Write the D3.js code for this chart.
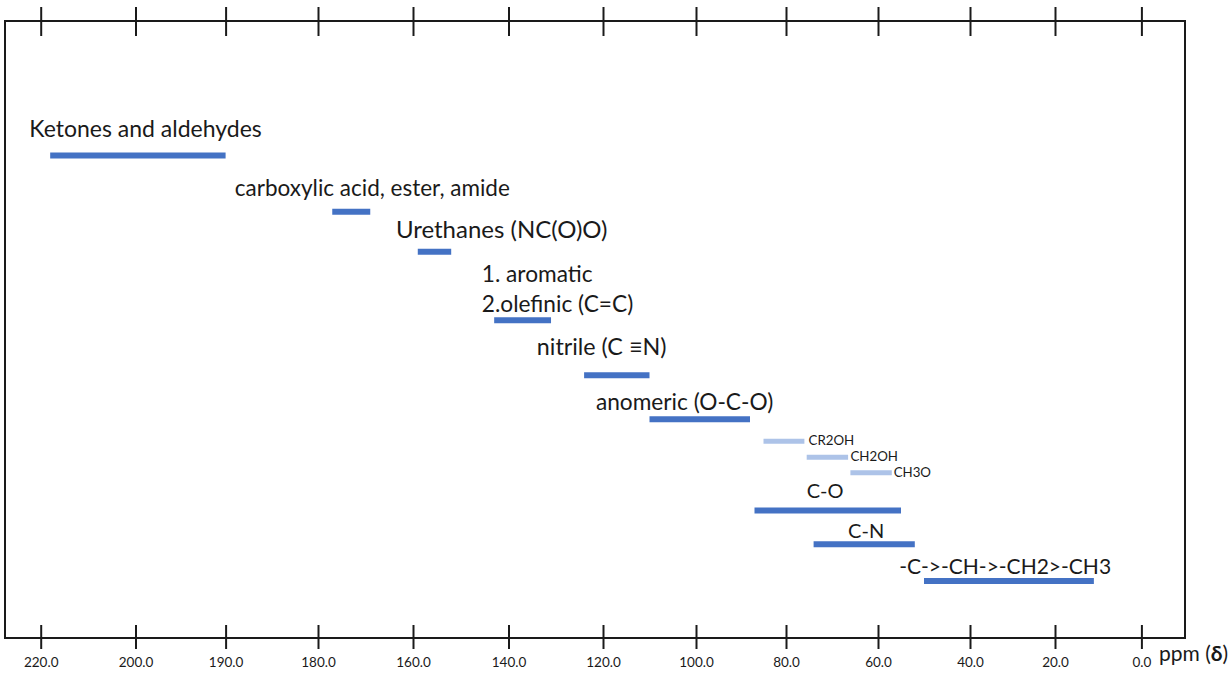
<!DOCTYPE html>
<html>
<head>
<meta charset="utf-8">
<script src="https://cdn.jsdelivr.net/npm/d3@7"></script>
<style>
  body { margin: 0; background: #fff; }
  svg { display: block; }
</style>
</head>
<body>
<svg id="chart" width="1231" height="675"></svg>
<script>
// 13C NMR chemical shift ranges by functional group (ppm)
const tickValues = [220, 200, 190, 180, 160, 140, 120, 100, 80, 60, 40, 20, 0];
const tickLabels = ["220.0", "200.0", "190.0", "180.0", "160.0", "140.0", "120.0",
                    "100.0", "80.0", "60.0", "40.0", "20.0", "0.0"];

const groups = [
  "Ketones and aldehydes",
  "carboxylic acid, ester, amide",
  "Urethanes (NC(O)O)",
  "1. aromatic|2.olefinic (C=C)",
  "nitrile (C \u2261N)",
  "anomeric (O-C-O)",
  "CR2OH",
  "CH2OH",
  "CH3O",
  "C-O",
  "C-N",
  "-C->-CH->-CH2>-CH3"
];
const shiftHigh = [218, 177, 159, 143, 124, 110, 85, 75.5, 66, 87, 74, 50];
const shiftLow  = [190, 169, 152, 131, 110,  88, 76, 66.5, 57, 55, 52, 11];
const isSubRange = [false, false, false, false, false, false, true, true, true, false, false, false];

// ---- layout ----
const frame = { left: 5, right: 1185, top: 21, bottom: 638 };
// the shift axis is drawn with evenly spread, hand-placed ticks
const tickPos = [40.7, 135.5, 225.6, 318, 413, 508.5, 603, 696, 786, 878, 970, 1055, 1141.4];
// vertical slot of every row (0 = top of frame, 100 = bottom)
const rowLevel = [21.8, 30.9, 37.4, 48.5, 57.4, 64.55, 68.1, 70.7, 73.2, 79.35, 84.8, 90.75];
// label anchor (ppm), baseline offset from its bar (px) and type size
const labelAt = [222.4, 189.0, 163.6, 145.6, 134.0, 121.5, 75.1, 66.0, 56.6, 75.5, 66.5, 55.4];
const labelDy = [-18.4, -15.7, -13.4, -38.3, -20, -9.3, 4, 3.5, 4, -12.2, -6, -7];
const labelSize = [23, 22.5, 24, 22.7, 23.3, 22.7, 13.3, 13.3, 13.3, 20, 20, 21];

const MAIN_BLUE = "#4472c4";
const LIGHT_BLUE = "#adc3e8";
const INK = "#1a1a1a";
const FONT = "Lato, 'Open Sans', sans-serif";

const svg = d3.select("#chart");

const x = d3.scaleLinear().domain(tickValues).range(tickPos);
const y = d3.scaleLinear().domain([0, 100]).range([frame.top, frame.bottom]);

// frame
svg.append("rect")
  .attr("x", frame.left).attr("y", frame.top)
  .attr("width", frame.right - frame.left)
  .attr("height", frame.bottom - frame.top)
  .attr("fill", "none")
  .attr("stroke", INK)
  .attr("stroke-width", 2);

// top axis: crossing ticks only
svg.append("g")
  .attr("transform", `translate(0,${frame.top})`)
  .call(d3.axisTop(x).tickValues(tickValues).tickFormat("").tickSizeOuter(0))
  .call(g => g.select(".domain").remove())
  .call(g => g.selectAll(".tick line")
    .attr("y1", -14).attr("y2", 15)
    .attr("stroke", INK).attr("stroke-width", 2));

// bottom axis with labels
svg.append("g")
  .attr("transform", `translate(0,${frame.bottom})`)
  .call(d3.axisBottom(x).tickValues(tickValues)
    .tickFormat((d, i) => tickLabels[i]).tickSizeOuter(0))
  .call(g => g.select(".domain").remove())
  .call(g => g.selectAll(".tick line")
    .attr("y1", -13).attr("y2", 11)
    .attr("stroke", INK).attr("stroke-width", 2))
  .call(g => g.selectAll(".tick text")
    .attr("y", 29).attr("dy", null)
    .attr("fill", INK)
    .attr("font-family", FONT)
    .attr("font-size", 13.5));

// axis unit
const unit = svg.append("text")
  .attr("x", 1159).attr("y", 661)
  .attr("font-family", FONT)
  .attr("font-size", 21)
  .attr("fill", INK);
unit.append("tspan").text("ppm (");
unit.append("tspan").attr("font-weight", "bold").text("\u03b4");
unit.append("tspan").text(")");

// range bars
const rows = groups.map((name, i) => ({
  name, hi: shiftHigh[i], lo: shiftLow[i], sub: isSubRange[i],
  level: rowLevel[i], lx: labelAt[i], ldy: labelDy[i], size: labelSize[i]
}));

svg.append("g").selectAll("line")
  .data(rows)
  .join("line")
  .attr("x1", d => x(d.hi))
  .attr("x2", d => x(d.lo))
  .attr("y1", d => y(d.level))
  .attr("y2", d => y(d.level))
  .attr("stroke", d => d.sub ? LIGHT_BLUE : MAIN_BLUE)
  .attr("stroke-width", d => d.sub ? 5 : 6);

// group names
const labels = svg.append("g").selectAll("text")
  .data(rows)
  .join("text")
  .attr("x", d => x(d.lx))
  .attr("y", d => y(d.level) + d.ldy)
  .attr("font-family", FONT)
  .attr("font-size", d => d.size)
  .attr("fill", INK);

labels.each(function(d) {
  const parts = d.name.split("|");
  const t = d3.select(this);
  if (parts.length === 1) { t.text(d.name); return; }
  parts.forEach((p, k) => {
    t.append("tspan")
      .attr("x", x(d.lx))
      .attr("dy", k === 0 ? 0 : 30)
      .text(p);
  });
});
</script>
</body>
</html>
